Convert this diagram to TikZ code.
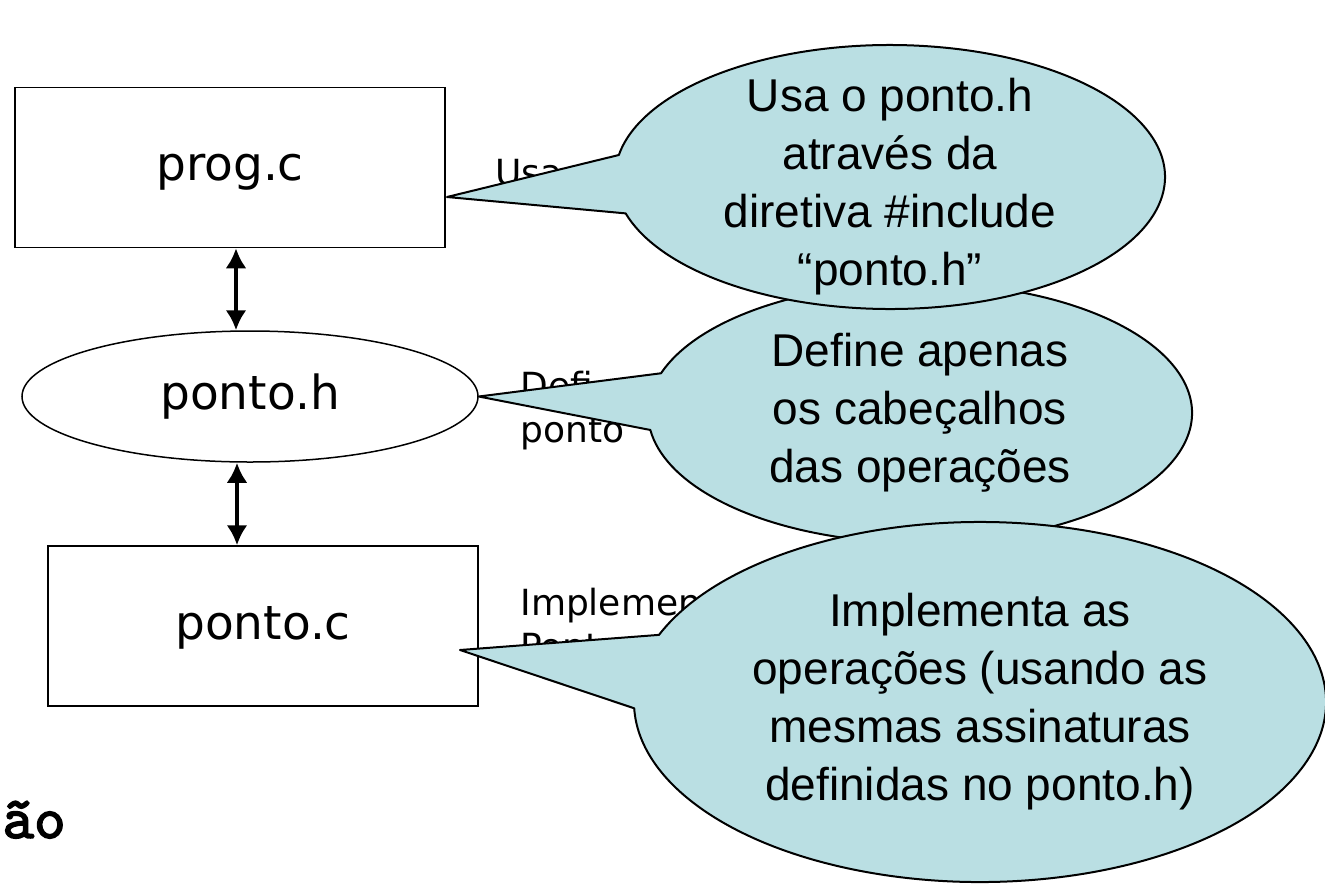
\documentclass[tikz,border=0pt]{standalone}
\usepackage{fontspec}
\setmainfont{DejaVu Sans}
\newfontfamily\arialfont{Liberation Sans}
\newfontfamily\monobold{lmmono10-regular.otf}[FakeBold=2.5]
\usetikzlibrary{shapes.geometric,arrows.meta}
\definecolor{balao}{HTML}{BADFE3}

\begin{document}
\begin{tikzpicture}[>={Latex[length=10pt,width=10.5pt]},x=0.5pt,y=-0.5pt,
  caixa/.style={draw,line width=0.75pt,minimum width=215pt,minimum height=80pt,text height=13pt,text depth=0pt,font=\fontsize{23.5}{28}\selectfont},
  oval/.style={draw,ellipse,line width=0.75pt,minimum width=228pt,minimum height=65.5pt,font=\fontsize{23.5}{28}\selectfont},
  seta/.style={<->,line width=2pt},
  nota/.style={inner sep=0pt,align=left,font=\fontsize{18}{22}\selectfont},
  fala/.style={draw,fill=balao,line width=1pt,line join=round},
  falatxt/.style={align=center,inner sep=0pt,font=\arialfont\fontsize{23}{29}\selectfont}]
\useasboundingbox (0,0) rectangle (1325,884);

\node[caixa] (prog) at (230,167.5) {prog.c};
\node[oval] (pontoh) at (250,396.5) {ponto.h};
\node[caixa] (pontoc) at (263,626) {ponto.c};

\draw[seta] (prog.south -| 236,0) -- (pontoh.north -| 236,0);
\draw[seta] (pontoh.south -| 237,0) -- (pontoc.north -| 237,0);

% textos por baixo dos baloes
\node[nota,anchor=base west] (usa) at (495,185) {Usa};
\node[nota,anchor=north west] (defi) at (520,371) {Defi\\ponto};
\node[nota,anchor=north west] (impl) at (520,588) {Implemen\\Ponto};
\node[anchor=base east,inner sep=0pt,font=\monobold\fontsize{30}{32}\selectfont] (ao) at (66,838) {ão};

% baloes
\draw[fala] (920,413) ++(197.8:272 and 130) arc[start angle=197.8,end angle=532.5,x radius=272,y radius=130] -- (pontoh.east) -- cycle;
\node[falatxt] (t2) at (920,413) {Define apenas\\os cabeçalhos\\das operações};

\draw[fala] (890,177) ++(189.6:275 and 132) arc[start angle=189.6,end angle=524,x radius=275,y radius=132] -- (447,197) -- cycle;
\node[falatxt] (t1) at (890,187) {Usa o ponto.h\\através da\\diretiva \#include\\“ponto.h”};

\draw[fala] (980,702) ++(201.9:346 and 180) arc[start angle=201.9,end angle=538,x radius=346,y radius=180] -- (460,650) -- cycle;
\node[falatxt] (t3) at (980,702) {Implementa as\\operações (usando as\\mesmas assinaturas\\definidas no ponto.h)};
\end{tikzpicture}
\end{document}
